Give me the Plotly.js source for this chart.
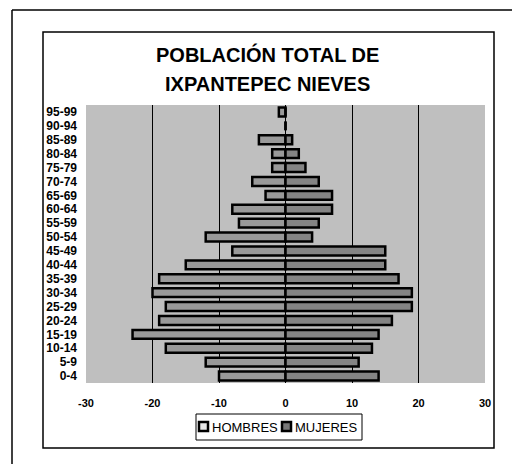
<!DOCTYPE html>
<html>
<head>
<meta charset="utf-8">
<script src="https://cdn.plot.ly/plotly-3.0.1.min.js"></script>
<style>
html,body{margin:0;padding:0;background:#fff;}
#chart{width:512px;height:464px;}
</style>
</head>
<body>
<div id="chart"></div>
<script>
const ageGroups = ["0-4","5-9","10-14","15-19","20-24","25-29","30-34","35-39","40-44","45-49",
  "50-54","55-59","60-64","65-69","70-74","75-79","80-84","85-89","90-94","95-99"];
const hombres = [-10,-12,-18,-23,-19,-18,-20,-19,-15,-8,-12,-7,-8,-3,-5,-2,-2,-4,0,-1];
const mujeres = [14,11,13,14,16,19,19,17,15,15,4,5,7,7,5,3,2,1,0,0];
const xTicks = [-30,-20,-10,0,10,20,30];
const titleLines = ["POBLACIÓN TOTAL DE","IXPANTEPEC NIEVES"];
const seriesNames = ["HOMBRES","MUJERES"];

const font = "Arial, 'Liberation Sans', sans-serif";
const colH = '#999999', colM = '#848484';

const traces = [
  {type:'bar', orientation:'h', name:seriesNames[0], y:ageGroups, x:hombres,
   marker:{color:colH, line:{color:'#000', width:2.5}}},
  {type:'bar', orientation:'h', name:seriesNames[1], y:ageGroups, x:mujeres,
   marker:{color:colM, line:{color:'#000', width:2.5}}}
];

// paper coordinate helpers (plot area: x 86..485, y 105..383)
const PX = x => (x-86)/399;
const PY = y => 1-(y-105)/278;

const layout = {
  width:512, height:464,
  margin:{l:86, r:27, t:105, b:81},
  paper_bgcolor:'#fff',
  plot_bgcolor:'#bfbfbf',
  barmode:'overlay',
  bargap:0.36,
  showlegend:false,
  font:{family:font, color:'#000'},
  xaxis:{range:[-30,30], tickmode:'array', tickvals:xTicks, ticktext:xTicks.map(String),
    showgrid:true, gridcolor:'#000', gridwidth:1,
    zeroline:true, zerolinecolor:'#000', zerolinewidth:1.5,
    ticks:'', ticklabelstandoff:12, fixedrange:true,
    tickfont:{family:font, size:11, weight:'bold', color:'#000'}},
  yaxis:{type:'category', categoryorder:'array', categoryarray:ageGroups,
    tickmode:'array', tickvals:ageGroups, ticktext:ageGroups,
    range:[-0.5,19.5], ticks:'', showgrid:false, zeroline:false,
    ticklabelstandoff:8,
    tickfont:{family:font, size:12, weight:'bold', color:'#000'}},
  annotations:[
    {text:titleLines[0], xref:'paper', yref:'paper', x:PX(267), y:PY(54),
     xanchor:'center', yanchor:'middle', showarrow:false,
     font:{family:font, size:20, weight:'bold', color:'#000'}},
    {text:titleLines[1], xref:'paper', yref:'paper', x:PX(267), y:PY(84),
     xanchor:'center', yanchor:'middle', showarrow:false,
     font:{family:font, size:20, weight:'bold', color:'#000'}},
    {text:seriesNames[0], xref:'paper', yref:'paper', x:PX(209.5), y:PY(427),
     xanchor:'left', yanchor:'middle', showarrow:false,
     font:{family:font, size:13, color:'#000'}},
    {text:seriesNames[1], xref:'paper', yref:'paper', x:PX(292.5), y:PY(427),
     xanchor:'left', yanchor:'middle', showarrow:false,
     font:{family:font, size:13, color:'#000'}}
  ],
  shapes:[
    {type:'rect', xref:'paper', yref:'paper', x0:PX(43), x1:PX(494), y0:PY(448), y1:PY(32),
     line:{color:'#000', width:1.5}},
    {type:'line', xref:'paper', yref:'paper', x0:PX(12), x1:PX(512), y0:PY(10), y1:PY(10),
     line:{color:'#000', width:1.5}},
    {type:'line', xref:'paper', yref:'paper', x0:PX(12), x1:PX(12), y0:PY(10), y1:PY(464),
     line:{color:'#000', width:1.5}},
    // legend box
    {type:'rect', xref:'paper', yref:'paper', x0:PX(196), x1:PX(362), y0:PY(440), y1:PY(414),
     fillcolor:'#fff', line:{color:'#000', width:1}},
    // legend markers
    {type:'rect', xref:'paper', yref:'paper', x0:PX(199), x1:PX(208), y0:PY(431), y1:PY(422),
     fillcolor:'#e8e8e8', line:{color:'#000', width:2.5}},
    {type:'rect', xref:'paper', yref:'paper', x0:PX(282), x1:PX(291), y0:PY(431), y1:PY(422),
     fillcolor:'#777', line:{color:'#000', width:2.5}}
  ]
};

Plotly.newPlot('chart', traces, layout, {displayModeBar:false, staticPlot:true});
</script>
</body>
</html>
